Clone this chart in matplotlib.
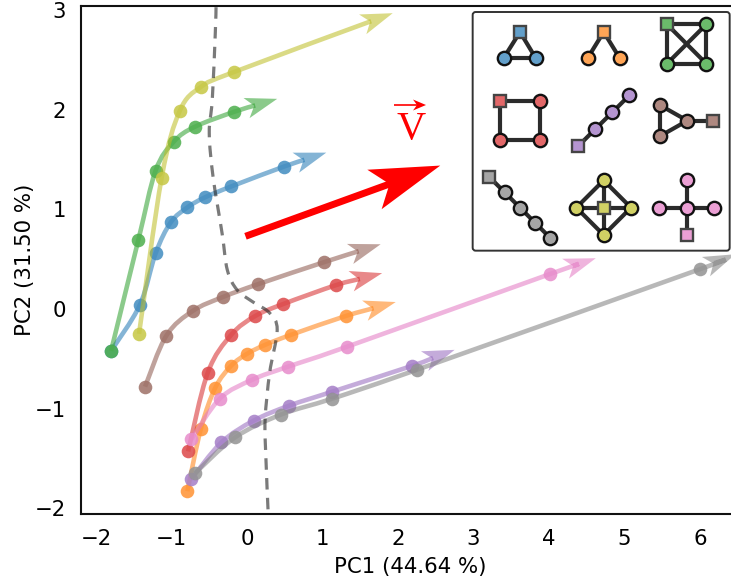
import numpy as np
import matplotlib
matplotlib.use("Agg")
import matplotlib.pyplot as plt
from matplotlib.path import Path
from matplotlib.patches import PathPatch, FancyBboxPatch, Polygon
from matplotlib.transforms import IdentityTransform

# trajectories (PC1, PC2): points with markers, then the arrow tip
blue_x = [-1.80, -1.42, -1.21, -1.01, -0.79, -0.56, -0.21, 0.49, 1.05]
blue_y = [-0.42, 0.04, 0.56, 0.87, 1.02, 1.12, 1.23, 1.43, 1.57]
orange_x = [-0.79, -0.61, -0.42, -0.21, 0.00, 0.24, 0.58, 1.31, 1.97]
orange_y = [-1.83, -1.20, -0.79, -0.57, -0.45, -0.36, -0.26, -0.07, 0.07]
green_x = [-1.80, -1.44, -1.21, -0.97, -0.69, -0.17, 0.40]
green_y = [-0.42, 0.69, 1.39, 1.68, 1.83, 1.98, 2.11]
red_x = [-0.78, -0.52, -0.21, 0.11, 0.48, 1.18, 1.79]
red_y = [-1.43, -0.64, -0.26, -0.07, 0.05, 0.24, 0.36]
purple_x = [-0.74, -0.34, 0.09, 0.56, 1.13, 2.19, 2.75]
purple_y = [-1.71, -1.34, -1.12, -0.97, -0.83, -0.57, -0.41]
brown_x = [-1.35, -1.07, -0.72, -0.32, 0.15, 1.02, 1.77]
brown_y = [-0.78, -0.27, -0.02, 0.12, 0.25, 0.47, 0.65]
gray_x = [-0.69, -0.16, 0.45, 1.13, 2.25, 6.00, 6.47]
gray_y = [-1.65, -1.29, -1.06, -0.90, -0.61, 0.40, 0.55]
olive_x = [-1.43, -1.13, -0.89, -0.61, -0.17, 1.93]
olive_y = [-0.25, 1.32, 1.99, 2.23, 2.38, 2.97]
pink_x = [-0.74, -0.36, 0.07, 0.54, 1.32, 4.01, 4.62]
pink_y = [-1.31, -0.90, -0.71, -0.58, -0.38, 0.35, 0.51]

# dashed separator
sep_x = [-0.41, -0.42, -0.46, -0.50, -0.45, -0.33, -0.26, -0.13, 0.08, 0.30, 0.40, 0.30, 0.24, 0.25, 0.28]
sep_y = [3.03, 2.77, 2.10, 1.77, 1.33, 0.76, 0.39, 0.19, 0.07, -0.04, -0.21, -0.64, -1.11, -1.49, -2.04]

# big red vector
vec_x = [-0.02, 2.56]
vec_y = [0.73, 1.44]

xticks = [-2, -1, 0, 1, 2, 3, 4, 5, 6]
yticks = [-2, -1, 0, 1, 2, 3]

series = [
    (blue_x, blue_y, "#1f77b4"),
    (orange_x, orange_y, "#ff7f0e"),
    (green_x, green_y, "#2ca02c"),
    (red_x, red_y, "#d62728"),
    (purple_x, purple_y, "#9467bd"),
    (brown_x, brown_y, "#8c564b"),
    (gray_x, gray_y, "#7f7f7f"),
    (olive_x, olive_y, "#bcbd22"),
    (pink_x, pink_y, "#e377c2"),
]

# motif graphs: node 0 is the square, others circles
motifs = [
    ("#1f77b4", [(150, 96), (101, 174), (197, 174)], [(0, 1), (0, 2), (1, 2)]),
    ("#ff7f0e", [(401, 96), (353, 174), (449, 174)], [(0, 1), (0, 2)]),
    ("#2ca02c", [(591, 73), (709, 73), (591, 191), (709, 191)], [(0, 1), (0, 2), (0, 3), (1, 2), (1, 3), (2, 3)]),
    ("#d62728", [(91, 303), (209, 303), (91, 421), (209, 421)], [(0, 1), (0, 2), (1, 3), (2, 3)]),
    ("#9467bd", [(325, 438), (376, 387), (427, 337), (478, 286)], [(0, 1), (1, 2), (2, 3)]),
    ("#8c564b", [(729, 362), (652, 362), (569, 315), (569, 409)], [(0, 1), (1, 2), (1, 3), (2, 3)]),
    ("#7f7f7f", [(58, 531), (104, 577), (150, 623), (195, 668), (241, 714)], [(0, 1), (1, 2), (2, 3), (3, 4)]),
    ("#bcbd22", [(401, 623), (401, 541), (319, 623), (483, 623), (401, 705)],
     [(0, 1), (0, 2), (0, 3), (0, 4), (1, 2), (1, 3), (2, 4), (3, 4)]),
    ("#e377c2", [(650, 705), (650, 623), (650, 541), (568, 623), (732, 623)], [(0, 1), (1, 2), (1, 3), (1, 4)]),
]

W, H = 731, 580
fig = plt.figure(figsize=(W / 100, H / 100), dpi=100)
L, R, T, B = 81, 733, 6, 514
ax = fig.add_axes([L / W, 1 - B / H, (R - L) / W, (B - T) / H])
ax.set_xlim((L - 247) / 75.5, (R - 247) / 75.5)
ax.set_ylim((309 - B) / 99.6, (309 - T) / 99.6)
for s in ax.spines.values():
    s.set_linewidth(1.5)
    s.set_color("#111111")
ax.set_xticks(xticks)
ax.set_yticks(yticks)
ax.set_xticklabels([str(v).replace("-", "\u2212") for v in xticks])
ax.set_yticklabels([str(v).replace("-", "\u2212") for v in yticks])
ax.tick_params(labelsize=15.3, length=0, pad=11)
ax.set_xlabel("PC1 (44.64 %)", fontsize=15.3)
ax.set_ylabel("PC2 (31.50 %)", fontsize=15.3)
ax.xaxis.set_label_coords((410 - L) / (R - L), -(567 - B) / (B - T), ax.transAxes)
ax.xaxis.label.set_va("center")
ax.yaxis.set_label_coords(-(81 - 25) / (R - L), 0.5, ax.transAxes)
ax.yaxis.label.set_va("center")


def smooth_path(p):
    """Catmull-Rom curve through pixel points."""
    verts = [p[0]]
    codes = [Path.MOVETO]
    n = len(p)
    for i in range(n - 1):
        p0 = p[max(i - 1, 0)]
        p1, p2 = p[i], p[i + 1]
        p3 = p[min(i + 2, n - 1)]
        verts += [p1 + (p2 - p0) / 6, p2 - (p3 - p1) / 6, p2]
        codes += [Path.CURVE4] * 3
    return Path(verts, codes)


def head(tip, frm, length, half, notch, color, alpha, zorder):
    d = tip - frm
    d = d / np.hypot(*d)
    n = np.array([-d[1], d[0]])
    pts = [tip, tip - length * d + half * n, tip - notch * d, tip - length * d - half * n]
    ax.add_patch(Polygon(pts, closed=True, fc=color, ec="none", alpha=alpha,
                         transform=IdentityTransform(), zorder=zorder))
    return tip - (notch - 1) * d


fig.canvas.draw()
tr = ax.transData
z = 3
for xs, ys, c in series:
    px = tr.transform(np.column_stack([xs, ys]))
    end = head(px[-1], px[-2], 32, 10.5, 24, c, 0.55, z)
    p = px.copy()
    p[-1] = end
    ax.add_patch(PathPatch(smooth_path(p), fc="none", ec=c, lw=3.3, alpha=0.55, capstyle="butt",
                           transform=IdentityTransform(), zorder=z))
    ax.plot(xs[:-1], ys[:-1], "o", color="white", ms=9.4, mew=0, alpha=0.5, zorder=z + 0.3)
    ax.plot(xs[:-1], ys[:-1], "o", color=c, ms=9.8, mew=0, alpha=0.72, zorder=z + 0.5)
    z += 1

sp = smooth_path(tr.transform(np.column_stack([sep_x, sep_y])))
ax.add_patch(PathPatch(sp, fc="none", ec="#222222", lw=2.3, alpha=0.6, linestyle=(0, (3.6, 2.6)),
                       transform=IdentityTransform(), zorder=20))

pv = tr.transform(np.column_stack([vec_x, vec_y]))
end = head(pv[1], pv[0], 70, 21, 54, "#ff0000", 1.0, 21)
ax.add_patch(PathPatch(Path([pv[0], end]), fc="none", ec="#ff0000", lw=5, capstyle="butt",
                       transform=IdentityTransform(), zorder=21))

# label of the vector: a serif V under a small arrow
ax.text(411, H - 129, "V", color="#ff0000", fontsize=29, family="Liberation Serif",
        ha="center", va="center", transform=IdentityTransform(), zorder=21)
sym_tip = np.array([426.0, H - 105.0])
sym_tail = np.array([394.0, H - 105.0])
sym_end = head(sym_tip, sym_tail, 13, 5.5, 9, "#ff0000", 1.0, 21)
ax.add_patch(PathPatch(Path([sym_tail, sym_end]), fc="none", ec="#ff0000", lw=1.2, capstyle="butt",
                       transform=IdentityTransform(), zorder=21))

# inset with motifs, drawn on a grid three times the figure's pixels
ins = fig.add_axes([470 / W, 1 - 255 / H, 261 / W, 255 / H], zorder=5)
ins.set_xlim(0, 783)
ins.set_ylim(765, 0)
ins.axis("off")
ins.add_patch(FancyBboxPatch((8, 36), 771, 716, boxstyle="round,pad=0,rounding_size=9",
                             fc="white", ec="#333333", lw=1.4, zorder=1))
for c, nodes, edges in motifs:
    for a, b in edges:
        ins.plot([nodes[a][0], nodes[b][0]], [nodes[a][1], nodes[b][1]], color="#2b2b2b", lw=3.0,
                 zorder=2, solid_capstyle="butt")
    cx = [n[0] for n in nodes[1:]]
    cy = [n[1] for n in nodes[1:]]
    fill = matplotlib.colors.to_rgba(c, 0.7)
    ins.plot(cx, cy, "o", ms=9.4, mfc="white", mew=0, zorder=2.5, ls="none")
    ins.plot(cx, cy, "o", ms=9.6, mfc=fill, mec="#111111", mew=1.7, zorder=3, ls="none")
    ins.plot(nodes[0][0], nodes[0][1], "s", ms=8.6, mfc="white", mew=0, zorder=2.5)
    ins.plot(nodes[0][0], nodes[0][1], "s", ms=8.6, mfc=fill, mec="#444444", mew=1.7, zorder=3)

fig.savefig("out.png", dpi=100)
